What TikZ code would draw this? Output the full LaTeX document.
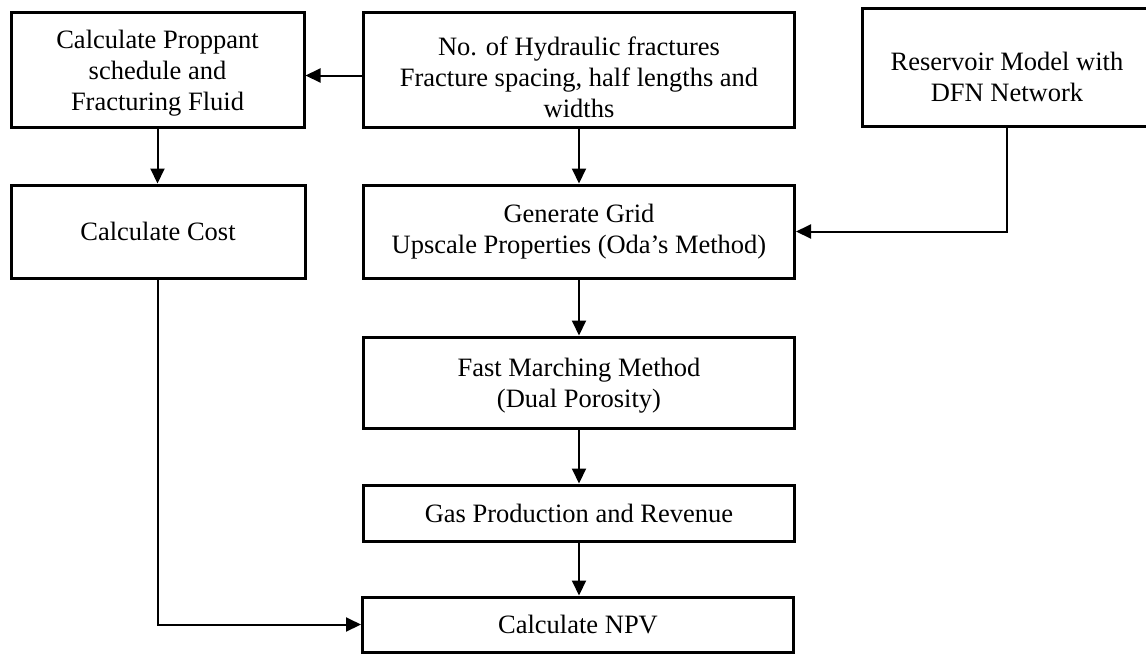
\documentclass[tikz,border=0pt]{standalone}
\usepackage{fontspec}
\setmainfont{Liberation Serif}
\usetikzlibrary{arrows.meta}
\begin{document}
\begin{tikzpicture}[x=1pt,y=-1pt,
  box/.style={draw=black, line width=3pt, rectangle, inner sep=0pt},
  txt/.style={align=center, inner sep=0pt, font=\fontsize{26.5}{31}\selectfont},
  arr/.style={line width=2pt, -{Triangle[length=15pt,width=14pt]}}]
\useasboundingbox (0,0) rectangle (1146,654);
\node[box, minimum width=293pt, minimum height=115pt] (b1) at (157.5,69.5) {};
\node[txt] (t1) at ([yshift=-4pt]b1.center) {Calculate Proppant\\schedule and\\Fracturing Fluid};
\node[box, minimum width=431pt, minimum height=115pt] (b2) at (579,69.5) {};
\node[txt] (t2) at ([yshift=-8pt]b2.center) {No. of Hydraulic fractures\\Fracture spacing, half lengths and\\widths};
\node[box, minimum width=290pt, minimum height=118pt] (b3) at (1007,67) {};
\node[txt] (t3) at ([yshift=-10pt]b3.center) {Reservoir Model with\\DFN Network};
\node[box, minimum width=294pt, minimum height=93pt] (b4) at (158,231.5) {};
\node[txt] (t4) at (b4.center) {Calculate Cost};
\node[box, minimum width=431pt, minimum height=93pt] (b5) at (579,231.5) {};
\node[txt] (t5) at (b5.center) {Generate Grid\\Upscale Properties (Oda’s Method)};
\node[box, minimum width=431pt, minimum height=91pt] (b6) at (579,382.5) {};
\node[txt] (t6) at ([yshift=-3pt]b6.center) {Fast Marching Method\\(Dual Porosity)};
\node[box, minimum width=431pt, minimum height=56pt] (b7) at (579,513) {};
\node[txt] (t7) at (b7.center) {Gas Production and Revenue};
\node[box, minimum width=431pt, minimum height=55pt] (b8) at (578,624.5) {};
\node[txt] (t8) at (b8.center) {Calculate NPV};
\draw[arr] ([yshift=-6pt]b2.west) -- ([yshift=-6pt]b1.east);
\draw[arr] (b1.south) -- (b1.south |- b4.north);
\draw[arr] (b2.south) -- (b5.north);
\draw[arr] (b3.south) |- (b5.east);
\draw[arr] (b5.south) -- (b6.north);
\draw[arr] (b6.south) -- (b7.north);
\draw[arr] (b7.south) -- (b7.south |- b8.north);
\draw[arr] (b4.south) |- (b8.west);
\end{tikzpicture}
\end{document}
